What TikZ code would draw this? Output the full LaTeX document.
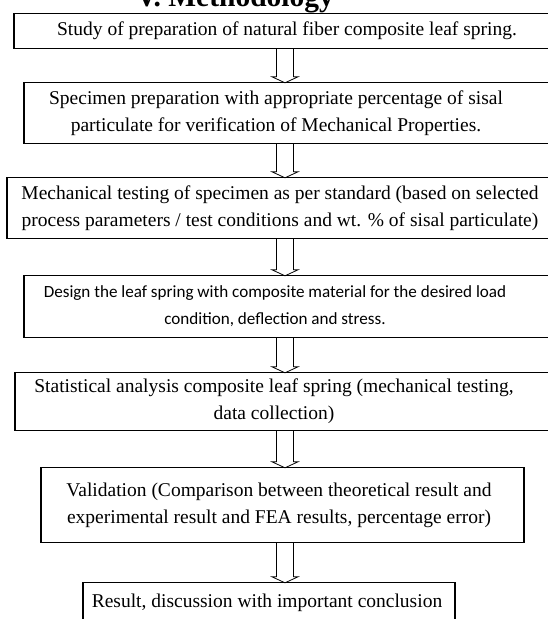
\documentclass[tikz,border=0pt]{standalone}
\usepackage{fontspec}
\setmainfont{Liberation Serif}
\newfontfamily\calibri{Carlito}
\usetikzlibrary{calc}
\tikzset{
  steptext/.style={align=center,inner sep=0pt,font=\fontsize{19.5}{27}\selectfont},
  frame/.style={draw,line width=1.2pt},
  flow/.style={draw,line width=0.8pt,line join=miter,to path={
    ($(\tikztostart)+(-8.5,0)$) -- ($(\tikztotarget)+(-8.5,-6)$) -- ($(\tikztotarget)+(-13,-6)$)
    -- (\tikztotarget) -- ($(\tikztotarget)+(13,-6)$) -- ($(\tikztotarget)+(8.5,-6)$)
    -- ($(\tikztostart)+(8.5,0)$)}}
}

\begin{document}
\begin{tikzpicture}[x=1pt,y=-1pt]
\useasboundingbox (0,0) rectangle (547,619);
\coordinate (axis) at (285,0);
\node[font=\bfseries\fontsize{29.5}{33}\selectfont,anchor=base] (title) at (235,6.5) {V. Methodology};
\node[steptext,minimum height=34] (study) at (287,31) {Study of preparation of natural fiber composite leaf spring.};
\node[steptext,minimum height=60] (prep) at (276,113) {Specimen preparation with appropriate percentage of sisal\\particulate for verification of Mechanical Properties.};
\node[steptext,minimum height=60] (test) at (280,208) {Mechanical testing of specimen as per standard (based on selected\\process parameters / test conditions and wt. \% of sisal particulate)};
\node[steptext,minimum height=61,font=\calibri\fontsize{17.1}{27}\selectfont] (design) at (275,306.5) {Design the leaf spring with composite material for the desired load\\condition, deflection and stress.};
\node[steptext,minimum height=57] (stat) at (274,401.5) {Statistical analysis composite leaf spring (mechanical testing,\\data collection)};
\node[steptext,minimum height=74] (valid) at (279,505) {Validation (Comparison between theoretical result and\\experimental result and FEA results, percentage error)};
\node[steptext,minimum height=40] (result) at (267,603) {Result, discussion with important conclusion};
% box outlines, some run past the page edge
\draw[frame] (study.north -| 14,0) rectangle (study.south -| 560,0);
\draw[frame] (prep.north -| 24,0) rectangle (prep.south -| 560,0);
\draw[frame] (test.north -| 7,0) rectangle (test.south -| 560,0);
\draw[frame] (design.north -| 24,0) rectangle (design.south -| 560,0);
\draw[frame] (stat.north -| 15,0) rectangle (stat.south -| 560,0);
\draw[frame] (valid.north -| 41,0) rectangle (valid.south -| 524,0);
\draw[frame] (result.north -| 83,0) rectangle (result.south -| 455,0);
\draw[flow] (study.south -| axis) to (prep.north -| axis);
\draw[flow] (prep.south -| axis) to (test.north -| axis);
\draw[flow] (test.south -| axis) to (design.north -| axis);
\draw[flow] (design.south -| axis) to (stat.north -| axis);
\draw[flow] (stat.south -| axis) to (valid.north -| axis);
\draw[flow] (valid.south -| axis) to (result.north -| axis);
\end{tikzpicture}
\end{document}
